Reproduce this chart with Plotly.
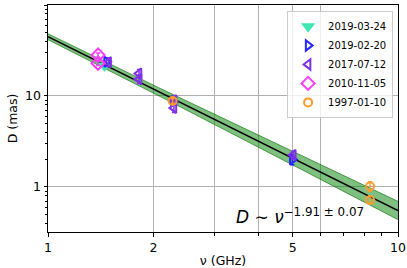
import numpy as np
import plotly.graph_objects as go

# ---- data ----
epochs = ["2019-03-24", "2019-02-20", "2017-07-12", "2010-11-05", "1997-01-10"]

freq_20190324 = [1.45]
size_20190324 = [21.5]
err_20190324 = [1.5]

freq_20190220 = [1.47, 2.28, 4.99]
size_20190220 = [23.8, 8.7, 2.0]
err_20190220 = [2.5, 0.8, 0.25]

freq_20170712 = [1.49, 1.82, 1.82, 2.29, 2.29, 5.02]
size_20170712 = [23.5, 17.7, 15.3, 9.0, 7.4, 2.25]
err_20170712 = [2.5, 1.8, 1.6, 1.0, 0.8, 0.22]

freq_20101105 = [1.39, 1.39]
size_20101105 = [28.2, 22.9]
err_20101105 = [1.5, 1.3]

freq_19970110 = [2.27, 8.32, 8.32]
size_19970110 = [8.8, 1.02, 0.72]
err_19970110 = [0.5, 0.12, 0.07]

# power-law fit D = A * nu^k, with its uncertainty band (in dex)
fit_A = 44.8
fit_k = -1.91
band_norm_dex = 0.033
band_slope_dex = 0.095

x_ticks = [1, 2, 5, 10]
x_ticktext = ["1", "2", "5", "10"]
x_extra_grid = [3, 4, 6]
x_minor = [3, 4, 6, 7, 8, 9]
y_ticks = [1, 10, 100]
y_ticktext = ["1", "10", "100"]
y_minor = [0.4, 0.5, 0.6, 0.7, 0.8, 0.9, 2, 3, 4, 5, 6, 7, 8, 9, 20, 30, 40, 50, 60, 70, 80, 90]

colors = ["#3ee8b5", "#2525ff", "#8030e6", "#ff3cff", "#ff9a30"]
symbols = ["triangle-down", "triangle-right-open", "triangle-left-open", "diamond-open", "circle-open"]

# ---- figure ----
fig = go.Figure()

nu = np.logspace(0, 1, 200)
logD = np.log10(fit_A) + fit_k * np.log10(nu)
sig = np.sqrt(band_norm_dex**2 + (band_slope_dex * np.log10(nu))**2)
upper = 10 ** (logD + sig)
lower = 10 ** (logD - sig)

fig.add_trace(go.Scatter(x=nu, y=lower, mode="lines", line=dict(color="rgba(0,110,0,0.75)", width=0.8),
                         showlegend=False, hoverinfo="skip"))
fig.add_trace(go.Scatter(x=nu, y=upper, mode="lines", line=dict(color="rgba(0,110,0,0.75)", width=0.8),
                         fill="tonexty", fillcolor="rgba(0,128,0,0.5)", showlegend=False, hoverinfo="skip"))
fig.add_trace(go.Scatter(x=nu, y=10 ** logD, mode="lines", line=dict(color="black", width=1.4),
                         showlegend=False, hoverinfo="skip"))

series = [
    (freq_20190324, size_20190324, err_20190324),
    (freq_20190220, size_20190220, err_20190220),
    (freq_20170712, size_20170712, err_20170712),
    (freq_20101105, size_20101105, err_20101105),
    (freq_19970110, size_19970110, err_19970110),
]
sizes = [9, 9, 9, 10, 8]
for (f, s, e), name, c, sym, ms in zip(series, epochs, colors, symbols, sizes):
    fig.add_trace(go.Scatter(
        x=f, y=s, mode="markers", name=name,
        marker=dict(symbol=sym, color=c, size=ms, line=dict(color=c, width=2)),
        error_y=dict(type="data", array=e, visible=True, color=c, thickness=1.5, width=2),
    ))

fig.add_annotation(
    xref="paper", yref="paper", x=0.53, y=0.015, xanchor="left", yanchor="bottom",
    text="<i>D</i> ∼ <i>ν</i><sup>−1.91 ± 0.07</sup>", showarrow=False,
    font=dict(family="DejaVu Sans", size=17, color="black"),
)

axis_common = dict(
    type="log", showline=True, mirror=True, linecolor="black", linewidth=1,
    ticks="outside", ticklen=3.5, tickwidth=0.8, tickcolor="black",
    gridcolor="#b0b0b0", gridwidth=0.8, zeroline=False,
    tickfont=dict(family="DejaVu Sans", size=12.5, color="black"),
)

fig.update_xaxes(
    **axis_common, range=[0, 1], tickmode="array", tickvals=x_ticks, ticktext=x_ticktext,
    showgrid=True,
    minor=dict(tickmode="array", tickvals=x_minor, ticks="outside", ticklen=2.5, tickwidth=0.7,
               tickcolor="black", showgrid=False),
    title=dict(text="ν (GHz)", font=dict(family="DejaVu Sans", size=12.5, color="black"), standoff=4),
    automargin=False,
)
fig.update_yaxes(
    **axis_common, range=[np.log10(0.32), 2], tickmode="array", tickvals=y_ticks, ticktext=y_ticktext,
    showgrid=True,
    minor=dict(tickmode="array", tickvals=y_minor, ticks="outside", ticklen=2, tickwidth=0.6,
               tickcolor="black", showgrid=False),
    title=dict(text="D (mas)", font=dict(family="DejaVu Sans", size=12.5, color="black"), standoff=4),
    automargin=False,
)

# extra vertical grid lines (3, 4, 6 GHz) via an overlaying axis
fig.update_layout(xaxis2=dict(
    type="log", range=[0, 1], overlaying="x", side="bottom", tickmode="array", tickvals=x_extra_grid,
    showticklabels=False, ticks="", showgrid=True, gridcolor="#b0b0b0", gridwidth=0.8,
    zeroline=False, showline=False, automargin=False,
))
fig.add_trace(go.Scatter(x=[1, 10], y=[1, 1], xaxis="x2", mode="markers", marker=dict(opacity=0),
                         showlegend=False, hoverinfo="skip"))

fig.update_layout(
    width=407, height=268,
    margin=dict(l=48, r=9, t=5, b=36, autoexpand=False),
    paper_bgcolor="white", plot_bgcolor="white",
    font=dict(family="DejaVu Sans", color="black"),
    legend=dict(x=0.986, y=0.974, xanchor="right", yanchor="top", traceorder="normal",
                bgcolor="rgba(255,255,255,0.8)", bordercolor="#cccccc", borderwidth=1,
                font=dict(family="DejaVu Sans", size=10, color="black"),
                itemwidth=30, tracegroupgap=0),
)

fig.write_html("out.html", config={"displayModeBar": False},
               post_script="document.body.style.margin='0';document.body.style.padding='0';")
